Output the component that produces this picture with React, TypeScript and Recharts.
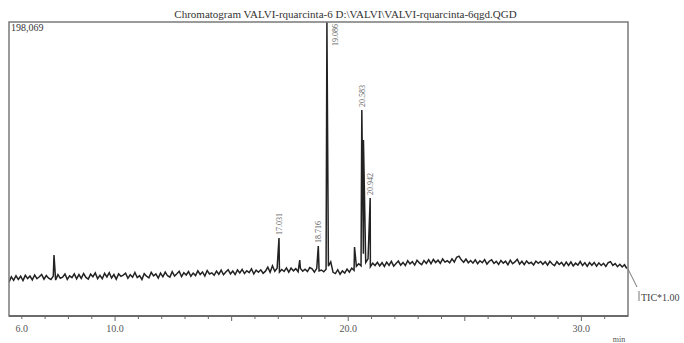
import { LineChart, Line, XAxis, YAxis } from "recharts";

// TIC trace, one scan every 0.1 min starting at 5.45 min (k counts)
const scanStart = 5.45;
const scanStep = 0.1;

const ticBaseline: number[] = [
  22.8, 26.4, 24.0, 27.1, 24.6, 26.8, 23.9, 27.4, 25.2, 26.9,
  24.3, 27.6, 25.1, 26.4, 28.0, 24.8, 27.3, 25.5, 24.6, 26.9,
  24.2, 27.9, 25.4, 26.1, 28.3, 24.7, 27.0, 25.8, 28.4, 25.0,
  27.9, 25.3, 28.6, 26.0, 24.9, 28.2, 26.5, 29.0, 25.2, 27.4,
  25.1, 28.7, 26.3, 29.2, 25.6, 27.9, 24.8, 28.4, 26.7, 27.6,
  28.9, 25.4, 27.8, 26.1, 29.3, 25.9, 27.2, 24.6, 28.5, 26.8,
  25.7, 29.4, 27.0, 28.3, 25.5, 28.9, 26.4, 29.6, 27.1, 26.2,
  29.8, 26.9, 28.4, 30.1, 26.5, 29.2, 27.6, 30.0, 26.8, 28.9,
  27.2, 30.4, 28.0, 29.7, 26.9, 30.6, 28.3, 29.1, 27.4, 30.2,
  28.1, 30.9, 27.8, 29.6, 31.2, 28.4, 30.3, 27.9, 31.0, 29.0,
  31.4, 28.6, 30.5, 29.2, 31.8, 28.3, 30.9, 29.5, 31.1, 28.8,
  30.2, 32.9, 29.4, 33.8, 30.1, 32.2, 29.6, 31.3, 30.0, 32.4,
  29.5, 32.3, 30.4, 31.9, 29.8, 32.0, 30.2, 31.5, 29.9, 32.6,
  31.8, 29.6, 32.1, 30.4, 31.0, 29.8, 31.5, 33.6, 36.5, 29.4,
  28.6, 31.2, 28.1, 30.4, 28.9, 31.6, 29.5, 32.2, 30.8, 33.5,
  35.2, 33.8, 42.0, 36.0, 38.5, 33.2, 35.6, 34.0, 36.1, 33.7,
  35.9, 33.4, 36.3, 34.1, 36.8, 33.6, 35.4, 37.0, 34.2, 36.1,
  34.0, 37.2, 35.1, 36.6, 34.3, 37.5, 35.8, 34.6, 37.3, 35.4,
  37.9, 35.2, 38.1, 36.0, 37.6, 35.5, 38.4, 36.3, 37.2, 35.8,
  38.5, 36.4, 39.6, 40.3, 37.8, 36.2, 38.3, 35.9, 37.4, 35.6,
  37.8, 35.3, 37.2, 35.9, 38.0, 35.0, 36.9, 37.9, 35.4, 36.8,
  34.8, 37.4, 35.6, 36.9, 34.5, 37.6, 35.2, 36.4, 38.2, 34.9,
  36.9, 34.6, 37.1, 35.3, 36.2, 34.4, 37.0, 35.5, 36.7, 34.8,
  36.5, 34.2, 36.8, 35.0, 33.9, 36.6, 34.7, 36.1, 33.8, 36.3,
  34.1, 36.4, 33.7, 35.6, 34.3, 36.7, 34.0, 35.9, 33.5, 36.0,
  34.2, 36.1, 33.6, 35.8, 34.0, 35.5, 33.4, 35.9, 36.6, 34.1,
  35.3, 33.2, 34.8, 33.0, 34.5, 32.0,
];

// peak apexes
const peakTimes = [7.38, 17.031, 17.92, 18.716, 19.086, 20.27, 20.583, 20.653, 20.942];
const peakHeights = [41.1, 52.5, 37.7, 47.2, 198.0, 46.5, 138.8, 118.6, 79.5];
const peakLabels = ["", "17.031", "", "18.716", "19.086", "", "20.583", "", "20.942"];

const minuteTicks = [6, 7, 8, 9, 10, 11, 12, 13, 14, 15, 16, 17, 18, 19, 20, 21, 22, 23, 24, 25, 26, 27, 28, 29, 30, 31];
const labelledTicks = [6, 10, 20, 30];

const xMin = 5.45;
const xMax = 32.0;
const yMax = 198.069;

type Pt = { t: number; v: number; label: string };

const chartData: Pt[] = [
  ...ticBaseline.map((v, i) => ({ t: +(scanStart + i * scanStep).toFixed(2), v, label: "" })),
  ...peakTimes.map((t, i) => ({ t, v: peakHeights[i], label: peakLabels[i] })),
].sort((a, b) => a.t - b.t);

const serif = "'Liberation Serif', 'Times New Roman', serif";

// plot box (matches the chart margins below)
const box = { left: 9, top: 22, right: 628, bottom: 316 };

function MinuteTick(props: any) {
  const { x, payload } = props;
  const y = box.bottom;
  const major = payload.value % 5 === 0;
  return (
    <g>
      <line x1={x} x2={x} y1={y} y2={y + (major ? 5 : 3)} stroke="#666" strokeWidth={1} />
      {labelledTicks.includes(payload.value) && (
        <text x={x} y={y + 16} textAnchor="middle" fontSize={10} fontFamily={serif} fill="#555">
          {payload.value.toFixed(1)}
        </text>
      )}
    </g>
  );
}

function PeakLabel(props: any) {
  const { x, y, index } = props;
  const d = chartData[index];
  if (!d || !d.label) return null;
  // apex at the top of the frame: label goes beside the peak
  const ax = y < 60 ? x + 11 : x + 3;
  const ay = y < 60 ? y + 2 : y - 3;
  return (
    <text
      x={ax}
      y={ay}
      transform={`rotate(-90 ${ax} ${ay})`}
      textAnchor={y < 60 ? "end" : "start"}
      fontSize={8}
      fontFamily={serif}
      fill="#666"
    >
      {d.label}
    </text>
  );
}

export default function App() {
  return (
    <div style={{ position: "absolute", left: 0, top: 0, width: 684, height: 343, background: "#fff" }}>
      <LineChart
        width={684}
        height={343}
        data={chartData}
        margin={{ top: box.top, right: 684 - box.right, bottom: 0, left: box.left }}
      >
        <XAxis
          dataKey="t"
          type="number"
          domain={[xMin, xMax]}
          allowDataOverflow
          ticks={minuteTicks}
          interval={0}
          height={343 - box.bottom}
          tickLine={false}
          axisLine={{ stroke: "#666", strokeWidth: 1.5 }}
          tick={<MinuteTick />}
        />
        <YAxis hide domain={[0, yMax]} allowDataOverflow width={0} />
        <Line
          type="linear"
          dataKey="v"
          stroke="#222"
          strokeWidth={1.5}
          dot={false}
          label={<PeakLabel />}
          isAnimationActive={false}
        />
      </LineChart>
      <svg width={684} height={343} style={{ position: "absolute", left: 0, top: 0, pointerEvents: "none" }}>
        <rect
          x={box.left}
          y={box.top}
          width={box.right - box.left}
          height={box.bottom - box.top}
          fill="none"
          stroke="#7a7a7a"
          strokeWidth={1.5}
        />
        <line x1={box.left} x2={box.right} y1={box.bottom} y2={box.bottom} stroke="#666" strokeWidth={1.5} />
        <text x={345.5} y={18} textAnchor="middle" fontSize={11} fontFamily={serif} fill="#333">
          Chromatogram VALVI-rquarcinta-6 D:\VALVI\VALVI-rquarcinta-6qgd.QGD
        </text>
        <text x={11} y={31} fontSize={10} fontFamily={serif} fill="#333">
          198,069
        </text>
        <polyline points="628,269 637,287" fill="none" stroke="#777" strokeWidth={1} />
        <line x1={639} x2={639} y1={291} y2={301} stroke="#777" strokeWidth={1} />
        <text x={641} y={301} fontSize={10} fontFamily={serif} fill="#444">
          TIC*1.00
        </text>
        <text x={619} y={342} textAnchor="middle" fontSize={8} fontFamily={serif} fill="#555">
          min
        </text>
      </svg>
    </div>
  );
}
